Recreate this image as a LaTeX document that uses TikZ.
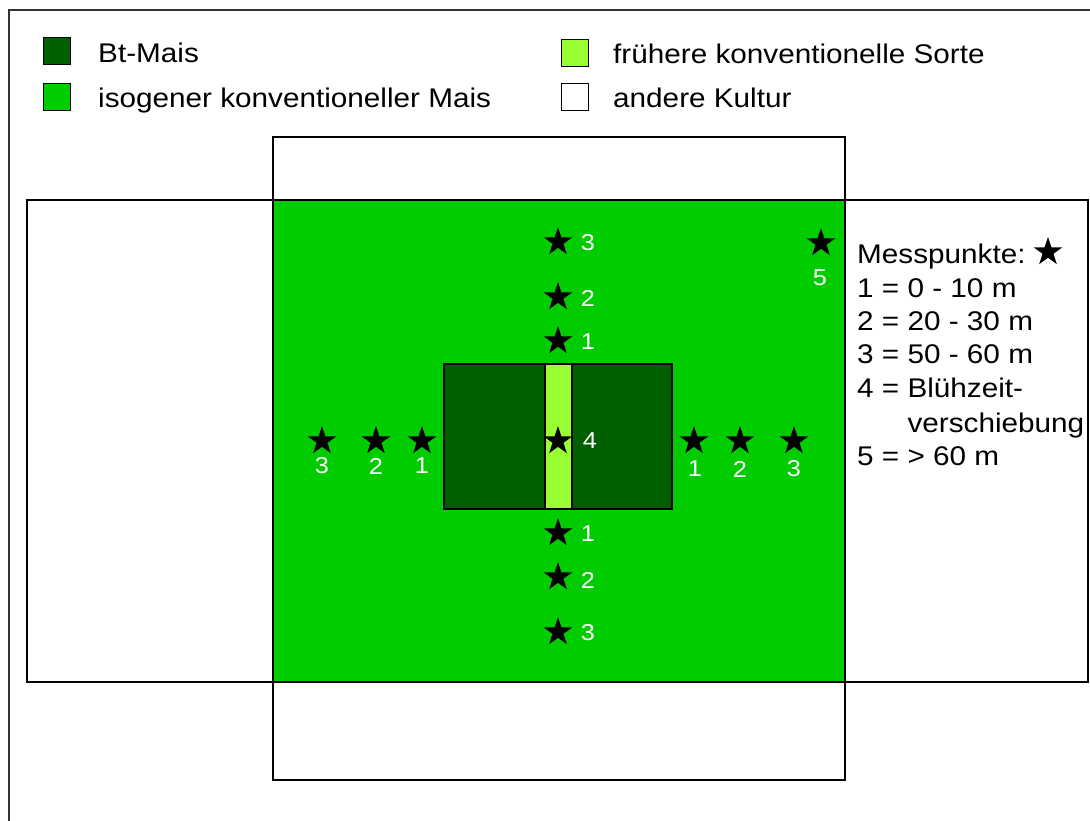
\documentclass[tikz,border=0pt]{standalone}
\usepackage{xcolor}
\usepackage{fontspec}
\setmainfont{Liberation Sans}[FakeStretch=1.1]
\usepackage{tikz}
\usetikzlibrary{shapes.geometric, positioning}

\definecolor{btgreen}{HTML}{006000}
\definecolor{isogreen}{HTML}{00CC00}
\definecolor{earlygreen}{HTML}{99FF33}

\begin{document}
\begin{tikzpicture}[
  x=1pt,
  y=-1pt,
  keybox/.style={
    rectangle,
    draw=black,
    line width=1.5pt,
    minimum size=27pt,
    inner sep=0pt
  },
  keytext/.style={
    anchor=base west,
    inner sep=0pt,
    font=\fontsize{27}{32}\selectfont
  },
  fieldline/.style={
    draw=black,
    line width=1.8pt
  },
  starmark/.style={
    star,
    star points=5,
    star point ratio=2.6,
    fill=black,
    inner sep=0pt,
    minimum size=30pt
  },
  starlabel/.style={
    text=white,
    inner sep=0pt,
    font=\fontsize{23}{26}\selectfont
  }
]
\useasboundingbox (0,0) rectangle (1090,820);
\clip (0,0) rectangle (1090,820);

% outer frame
\draw[line width=1.5pt, draw=black!80] (9,830) -- (9,10) -- (1100,10);

% legend
\node[keybox, fill=btgreen] (keybt) at (57,51) {};
\node[keytext] (txtbt) at (98,62) {Bt-Mais};
\node[keybox, fill=isogreen] (keyiso) at (57,97) {};
\node[keytext] (txtiso) at (98,107) {isogener konventioneller Mais};
\node[keybox, fill=earlygreen] (keyearly) at (575,53) {};
\node[keytext] (txtearly) at (613,63) {frühere konventionelle Sorte};
\node[keybox, fill=white] (keyother) at (575,97) {};
\node[keytext] (txtother) at (613,107) {andere Kultur};

% fields
\draw[fieldline, fill=white] (273,137) rectangle (845,200);
\draw[fieldline, fill=white] (273,682) rectangle (845,780);
\draw[fieldline, fill=white] (27,200) rectangle (1088,682);
\draw[fieldline, fill=isogreen] (273,200) rectangle (845,682);
\draw[fieldline, fill=btgreen] (444,364) rectangle (672,509);
\draw[fieldline, fill=earlygreen] (545,364) rectangle (572,509);

% measuring points, column
\node[starmark] (ntop3) at (558,242) {};
\node[starlabel] (lntop3) at (588,243) {3};
\node[starmark] (ntop2) at (558,297) {};
\node[starlabel] (lntop2) at (588,298) {2};
\node[starmark] (ntop1) at (558,341) {};
\node[starlabel] (lntop1) at (588,342) {1};
\node[starmark] (mid4) at (558,441) {};
\node[starlabel] (lmid4) at (590,441) {4};
\node[starmark] (sbot1) at (558,533) {};
\node[starlabel] (lsbot1) at (588,534) {1};
\node[starmark] (sbot2) at (558,577) {};
\node[starlabel] (lsbot2) at (588,580) {2};
\node[starmark] (sbot3) at (558,632) {};
\node[starlabel] (lsbot3) at (588,633) {3};

% measuring points, row
\node[starmark] (west3) at (322,441) {};
\node[starlabel] (lwest3) at (322,466) {3};
\node[starmark] (west2) at (376,441) {};
\node[starlabel] (lwest2) at (376,466) {2};
\node[starmark] (west1) at (422,441) {};
\node[starlabel] (lwest1) at (422,466) {1};
\node[starmark] (east1) at (694,441) {};
\node[starlabel] (least1) at (695,469) {1};
\node[starmark] (east2) at (740,441) {};
\node[starlabel] (least2) at (740,469) {2};
\node[starmark] (east3) at (794,441) {};
\node[starlabel] (least3) at (794,469) {3};

\node[starmark] (far5) at (821,243) {};
\node[starlabel] (lfar5) at (820,278) {5};

% key for measuring points
\node[keytext] (mtitle) at (857,263) {Messpunkte:};
\node[starmark] (mstar) at (1048,252) {};
\node[keytext] (mline1) at (857,297) {1 = 0 - 10 m};
\node[keytext] (mline2) at (857,330) {2 = 20 - 30 m};
\node[keytext] (mline3) at (857,363) {3 = 50 - 60 m};
\node[keytext] (mline4) at (857,397) {4 = Blühzeit-};
\node[keytext] (mline4b) at (857,432) {\hphantom{4 = }verschiebung};
\node[keytext] (mline5) at (857,465) {5 = > 60 m};

\end{tikzpicture}
\end{document}
